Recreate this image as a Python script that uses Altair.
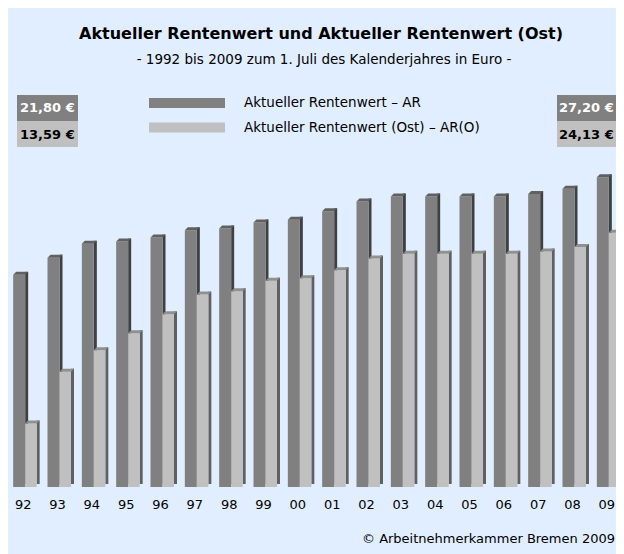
import altair as alt
import pandas as pd

years = ["92", "93", "94", "95", "96", "97", "98", "99", "00",
         "01", "02", "03", "04", "05", "06", "07", "08", "09"]
ar = [21.80, 22.75, 23.52, 23.64, 23.86, 24.26, 24.36, 24.69, 24.84,
      25.31, 25.86, 26.13, 26.13, 26.13, 26.13, 26.27, 26.56, 27.20]
aro = [13.59, 16.45, 17.63, 18.58, 19.62, 20.71, 20.90, 21.48, 21.61,
       22.06, 22.70, 22.97, 22.97, 22.97, 22.97, 23.09, 23.34, 24.13]
series = ["Aktueller Rentenwert – AR", "Aktueller Rentenwert (Ost) – AR(O)"]

title_text = "Aktueller Rentenwert und Aktueller Rentenwert (Ost)"
subtitle_text = "- 1992 bis 2009 zum 1. Juli des Kalenderjahres in Euro -"
source_text = "© Arbeitnehmerkammer Bremen 2009"


def euro(v):
    return f"{v:.2f}".replace(".", ",") + " €"


df = pd.DataFrame({"year": years, "ar": ar, "aro": aro})
one = pd.DataFrame({"k": [0]})

FONT = "DejaVu Sans"
BASE = 10.08
W, H = 608, 479

x_scale = alt.Scale(domain=years, range=[0, 618], paddingInner=0, paddingOuter=0)
y_scale = alt.Scale(domain=[BASE, BASE + H / 18.1], zero=False, nice=False)
x_axis = alt.Axis(title=None, domain=False, ticks=False, grid=False, labelAngle=0,
                  labelFont=FONT, labelFontSize=13, labelColor="#000000",
                  labelPadding=11, labelOffset=-2, labelOverlap=False)
X = alt.X("year:N", scale=x_scale, axis=x_axis, sort=None)

color_scale = alt.Scale(domain=series, range=["#808080", "#C0C0C0"])
legend = alt.Legend(orient="none", legendX=141, legendY=88.5, title=None,
                    symbolType="M-1,-0.132L1,-0.132L1,0.132L-1,0.132Z",
                    symbolSize=5776, symbolStrokeWidth=0, symbolOpacity=1,
                    clipHeight=13, rowPadding=10.5,
                    labelFont=FONT, labelFontSize=13.5, labelColor="#000000",
                    labelOffset=19, padding=0, labelLimit=400)
C = alt.Color("s:N", scale=color_scale, legend=legend)

base = alt.Chart(df)
Yar = alt.Y("ar:Q", scale=y_scale, axis=None)
Yaro = alt.Y("aro:Q", scale=y_scale, axis=None)

dark_side = base.mark_bar(width=3, xOffset=1.5, yOffset=-3, y2Offset=-3,
                          color="#404040").encode(x=X, y=Yar, y2=alt.datum(BASE))
dark_front = base.mark_bar(width=12, xOffset=-6).transform_calculate(
    s=f"'{series[0]}'").encode(x=X, y=Yar, y2=alt.datum(BASE), color=C)
dark_top = base.mark_point(shape="M-12,0L0,0L3,-3L-9,-3Z", size=4, filled=True,
                           opacity=1, strokeWidth=0, color="#606060").encode(x=X, y=Yar)

light_side = base.mark_bar(width=3, xOffset=13, yOffset=-3, y2Offset=-3,
                           color="#606060").encode(x=X, y=Yaro, y2=alt.datum(BASE))
light_front = base.mark_bar(width=11.5, xOffset=5.75).transform_calculate(
    s=f"'{series[1]}'").encode(x=X, y=Yaro, y2=alt.datum(BASE), color=C)
light_top = base.mark_point(shape="M0,0L11.5,0L14.5,-3L3,-3Z", size=4, filled=True,
                            opacity=1, strokeWidth=0, color="#909090").encode(x=X, y=Yaro)

ann = alt.Chart(one)


def box(x1, x2, y1, y2, col):
    return ann.mark_rect(color=col).encode(
        x=alt.value(x1), x2=alt.value(x2), y=alt.value(y1), y2=alt.value(y2))


def txt(s, x, y, size, weight="normal", align="left", col="#000000"):
    return ann.mark_text(text=s, font=FONT, fontSize=size, fontWeight=weight,
                         align=align, baseline="alphabetic", color=col).encode(
        x=alt.value(x), y=alt.value(y))


layers = [
    box(9, 70, 87, 113, "#808080"), box(9, 70, 113, 139, "#C0C0C0"),
    box(549, 608, 87, 113, "#808080"), box(549, 608, 113, 139, "#C0C0C0"),
    txt(euro(ar[0]), 12, 104, 13, "bold", col="#FFFFFF"),
    txt(euro(aro[0]), 12, 131, 13, "bold"),
    txt(euro(ar[-1]), 551, 104, 13, "bold", col="#FFFFFF"),
    txt(euro(aro[-1]), 551, 131, 13, "bold"),
    txt(title_text, 313, 31, 16, "bold", align="center"),
    txt(subtitle_text, 316, 56, 13.5, align="center"),
    txt(source_text, 354, 535, 13),
    dark_side, dark_front, dark_top, light_side, light_front, light_top,
]

chart = alt.layer(*layers).properties(
    width=W, height=H,
    autosize=alt.AutoSizeParams(type="none"),
    padding={"left": 0, "top": 0, "right": 0, "bottom": 67},
    background="#E0EEFF",
).configure_view(stroke=None)

chart.save("out.html", embed_options={"renderer": "svg", "actions": False})
